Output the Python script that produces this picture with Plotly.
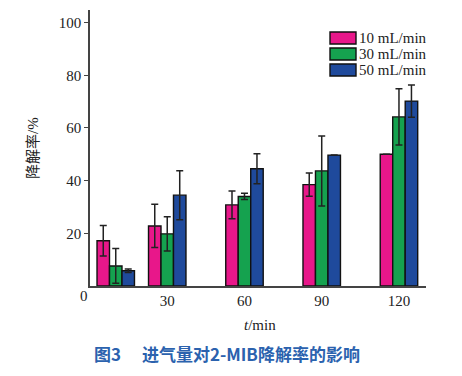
import plotly.graph_objects as go

# ---- data ----
times = [10, 30, 60, 90, 120]
series_names = ["10 mL/min", "30 mL/min", "50 mL/min"]
rate_10 = [17.2, 22.8, 30.8, 38.5, 50.0]
err_10 = [5.8, 8.2, 5.3, 4.4, None]
rate_30 = [7.6, 19.8, 34.0, 43.7, 64.2]
err_30 = [6.6, 6.5, 1.2, 13.3, 10.7]
rate_50 = [5.8, 34.5, 44.5, 49.7, 70.2]
err_50 = [0.7, 9.3, 5.7, None, 6.1]
x_ticks = [30, 60, 90, 120]
y_ticks = [20, 40, 60, 80, 100]

colors = ["#e8178a", "#15a24f", "#1f4a9c"]
OFF = 8  # default page body margin
W, H = 462 - OFF, 376 - OFF
# target plot area in window pixels
PL, PR, PT, PB = 90, 426, 10, 286
L, R, T, B = PL - OFF, W - (PR - OFF), PT - OFF, H - (PB - OFF)
pw, ph = PR - PL, PB - PT


def px(xp):
    return (xp - PL) / pw


def py(yp):
    return (PB - yp) / ph


serif = "Liberation Serif, Times New Roman, serif"
bar_w = 4.85
offsets = [-1.5 * bar_w, -0.5 * bar_w, 0.5 * bar_w]

fig = go.Figure()
for name, vals, errs, col, off in zip(series_names, [rate_10, rate_30, rate_50],
                                      [err_10, err_30, err_50], colors, offsets):
    fig.add_trace(go.Bar(
        x=times, y=vals, name=name, width=bar_w, offset=off,
        marker=dict(color=col, line=dict(color="#111", width=1.4)),
        error_y=dict(type="data", array=errs, visible=True, color="#222",
                     thickness=1.5, width=3.5),
        showlegend=False,
    ))

fig.update_layout(
    width=W, height=H, barmode="overlay",
    margin=dict(l=L, r=R, t=T, b=B, autoexpand=False),
    paper_bgcolor="white", plot_bgcolor="white",
    font=dict(family=serif, size=15, color="#222"),
    xaxis=dict(range=[0, 130.5], tickvals=x_ticks, ticktext=[str(v) for v in x_ticks],
               showline=True, linecolor="#444", linewidth=1.5, ticks="",
               showgrid=False, zeroline=False, tickfont=dict(family=serif, size=15)),
    yaxis=dict(range=[0, 104.8], tickvals=y_ticks, showline=True, linecolor="#444",
               linewidth=1.5, ticks="outside", ticklen=4, tickcolor="#444",
               showgrid=False, zeroline=False, tickfont=dict(family=serif, size=15)),
)


def label(text, x, y, size=15, family=serif, color="#222", xanchor="center",
          angle=0, weight="normal"):
    return dict(text=text, x=px(x), y=py(y), xref="paper", yref="paper",
                xanchor=xanchor, yanchor="middle", textangle=angle, showarrow=False,
                font=dict(family=family, size=size, color=color, weight=weight))


ann = [
    label("0", 84, 296),
    label("<i>t</i>/min", 260, 325),
    label("降解率/%", 33, 148, family="Liberation Serif, Noto Sans CJK SC", angle=-90),
    label("图3　 进气量对2-MIB降解率的影响", 227, 353, size=17,
          family="Noto Sans CJK SC", color="#2b62ae", weight="bold"),
]

shapes = []
rows = [38, 54, 70]
for name, col, yc in zip(series_names, colors, rows):
    shapes.append(dict(type="rect", xref="paper", yref="paper",
                       x0=px(330), x1=px(356), y0=py(yc + 6), y1=py(yc - 6),
                       fillcolor=col, line=dict(color="#111", width=1.4)))
    ann.append(label(name, 357, yc, xanchor="left"))

fig.update_layout(annotations=ann, shapes=shapes)
fig.write_html("out.html")
